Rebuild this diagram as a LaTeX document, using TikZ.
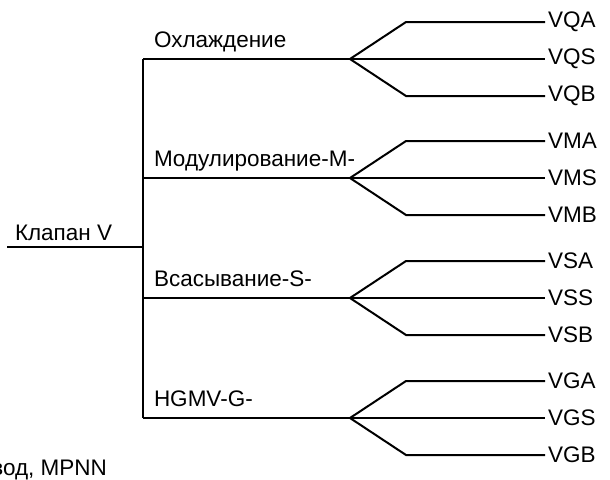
\documentclass[tikz,border=0pt]{standalone}
\usepackage{fontspec}
\setmainfont{Liberation Sans}
\begin{document}
\begin{tikzpicture}[x=1pt,y=-1pt,line width=2pt,
    lbl/.style={font=\fontsize{22.5}{26}\selectfont,inner sep=0pt},
    leaf/.style={lbl,anchor=west,inner xsep=2pt}]
  \useasboundingbox (0,0) rectangle (610,479);
  % root
  \coordinate (root) at (7,247);
  \coordinate (trunk) at (143,247);
  \node[lbl,anchor=base west] (rootlbl) at (14,240) {Клапан V};
  \draw (root) -- (trunk);
  % groups and leaves
  \foreach \y/\txt/\code [count=\i] in {59/Охлаждение/Q,178/Модулирование-M-/M,298/Всасывание-S-/S,418/HGMV-G-/G} {
    \coordinate (b\i) at (143,\y);
    \coordinate (f\i) at (350,\y);
    \node[lbl,anchor=base west] (g\i) at (153,\y-12) {\txt};
    \draw[line width=2.5pt] (b\i) -- ++(99,0) coordinate (m\i);
    \draw (m\i) -- (f\i);
    \foreach \dy/\kind in {-37/A,0/S,37/B} {
      \coordinate (k\i\kind) at (406,\y+\dy);
      \node[leaf] (v\i\kind) at (545,\y+\dy) {V\code\kind};
      \draw (f\i) -- (k\i\kind) -- (v\i\kind.west);
    }
  }
  \draw[line width=2.5pt] (b1) -- (b4);
  % cut-off caption
  \node[lbl,anchor=base east] (drive) at (108,475) {вод, MPNN};
\end{tikzpicture}
\end{document}
